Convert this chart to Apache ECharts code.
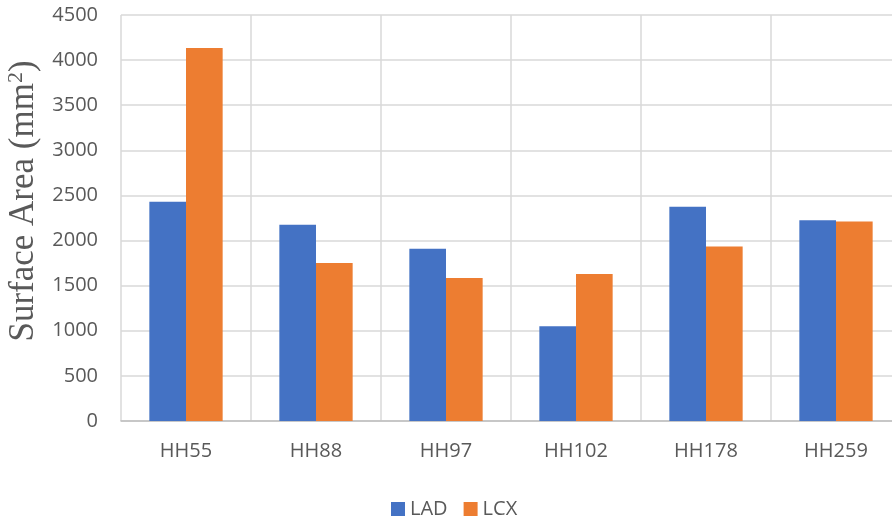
<!DOCTYPE html>
<html>
<head>
<meta charset="utf-8">
<script src="https://cdn.jsdelivr.net/npm/echarts@6/dist/echarts.min.js"></script>
<style>
  html, body { margin: 0; padding: 0; background: #fff; }
  #chart { width: 892px; height: 518px; }
</style>
</head>
<body>
<div id="chart"></div>
<script>
// Surface area per specimen for the two coronary branches
const categories = ['HH55', 'HH88', 'HH97', 'HH102', 'HH178', 'HH259'];
const ladValues = [2430, 2175, 1910, 1050, 2375, 2225];
const lcxValues = [4135, 1750, 1585, 1630, 1935, 2210];
const yTicks = { min: 0, max: 4500, interval: 500 };

const textColor = '#595959';
const gridColor = '#d9d9d9';
const labelFont = '"Open Sans", "Liberation Sans", sans-serif';
const serifFont = '"Liberation Serif", "DejaVu Serif", serif';

const chart = echarts.init(document.getElementById('chart'), null, { renderer: 'canvas' });

chart.setOption({
  animation: false,
  backgroundColor: '#ffffff',
  color: ['#4472C4', '#ED7D31'],
  // plot area runs slightly past the right edge of the canvas
  grid: { left: 121, top: 15, width: 780, height: 406, containLabel: false, outerBoundsMode: 'none' },
  legend: {
    left: 386,
    top: 494,
    itemWidth: 14,
    itemHeight: 14,
    itemGap: 16,
    icon: 'rect',
    textStyle: { color: textColor, fontSize: 20, fontFamily: labelFont },
    data: ['LAD', 'LCX']
  },
  xAxis: {
    type: 'category',
    data: categories,
    axisLine: { show: true, lineStyle: { color: '#bfbfbf', width: 1.5 } },
    axisTick: { show: false },
    splitLine: { show: true, lineStyle: { color: gridColor, width: 1.5 } },
    axisLabel: { color: textColor, fontSize: 20, fontFamily: labelFont, margin: 20 }
  },
  yAxis: {
    type: 'value',
    min: yTicks.min,
    max: yTicks.max,
    interval: yTicks.interval,
    axisLine: { show: false },
    axisTick: { show: false },
    splitLine: { show: true, lineStyle: { color: gridColor, width: 1.5 } },
    axisLabel: {
      color: textColor, fontSize: 20, fontFamily: labelFont, margin: 23,
      formatter: v => String(v)
    },
    name: '{t|Surface Area (mm}{s|2}{t|)}',
    nameLocation: 'middle',
    nameGap: 76,
    nameTextStyle: {
      padding: [0, 0, 0, 34],
      rich: {
        t: { fontFamily: serifFont, fontSize: 35, color: textColor },
        s: { fontFamily: serifFont, fontSize: 22, color: textColor, verticalAlign: 'top', padding: [0, 0, 16, 0] }
      }
    }
  },
  series: [
    {
      name: 'LAD',
      type: 'bar',
      data: ladValues,
      barGap: '0%',
      barCategoryGap: '43.6%'
    },
    {
      name: 'LCX',
      type: 'bar',
      data: lcxValues,
      barGap: '0%',
      barCategoryGap: '43.6%'
    }
  ]
});
</script>
</body>
</html>
